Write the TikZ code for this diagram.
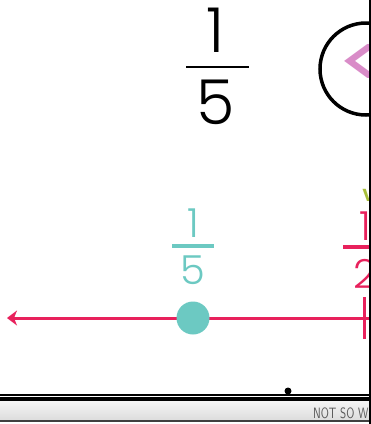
\documentclass[tikz,border=0pt]{standalone}
\usepackage{fontspec}
\setmainfont{Poppins}[UprightFont=* Light]
\newfontfamily\signfont{Poppins}
\usepackage{xcolor}
\usetikzlibrary{arrows.meta}
\definecolor{linepink}{HTML}{E8215C}
\definecolor{dotteal}{HTML}{6CC9C2}
\definecolor{signpink}{HTML}{D98CC8}
\definecolor{markgreen}{HTML}{A8BF3C}

\begin{document}
\begin{tikzpicture}[x=1pt,y=-1pt,
  bigdigit/.style={inner sep=0pt,font=\fontsize{62}{62}\selectfont},
  middigit/.style={inner sep=0pt,font=\fontsize{40}{40}\selectfont},
  fracbar/.style={line width=1.5pt},
  numline/.style={draw=linepink,line width=3pt},
  arr/.style={-{Stealth[length=10pt,width=15pt,inset=3pt]}}]
\useasboundingbox (0,0) rectangle (371,424);
\clip (0,0) rectangle (371,424);
\fill[white] (0,0) rectangle (371,424);
% top fraction and sign
\node[bigdigit] (topnum) at (216,30) {1};
\node[bigdigit] (topden) at (216,102) {5};
\draw[fracbar] (186,67) -- (249,67);
\node[draw,circle,line width=3.5pt,minimum size=92pt] (sign) at (366,69) {};
\node[anchor=west,inner sep=0pt,text=signpink,xscale=1.3,font=\signfont\fontsize{74}{74}\selectfont] (signtxt) at (336,66) {<};
% number line
\coordinate (lineR) at (371,318); \coordinate (lineL) at (7,318);
\draw[numline,arr] (lineR) -- (lineL);
\coordinate (tickT) at (364,297); \coordinate (tickB) at (364,339);
\draw[numline] (tickT) -- (tickB);
\node[circle,fill=dotteal,minimum size=33pt,inner sep=0pt] (dot) at (193,318) {};
\node[middigit,text=dotteal] (tealnum) at (193,223) {1};
\node[middigit,text=dotteal] (tealden) at (193,270) {5};
\draw[dotteal,line width=4pt] (172,246) -- (214,246);
\node[middigit,text=linepink] (pinknum) at (365,226) {1};
\node[middigit,text=linepink] (pinkden) at (365,274) {2};
\draw[linepink,line width=4pt] (343,247) -- (387,247);
\node[inner sep=0pt,text=markgreen,font=\fontsize{22}{22}\selectfont\bfseries] (mark) at (369,195) {v};
% bottom band
\shade[top color=black!4,bottom color=black!14] (0,401) rectangle (371,421);
\draw[line width=1.6pt] (0,395) -- (371,395);
\draw[line width=3.2pt] (0,399) -- (371,399);
\draw[black!75,line width=1.2pt] (0,421) -- (371,421);
\fill (288,391) circle (3.5pt);
\node[anchor=west,inner sep=0pt,text=black!65,font=\sffamily\fontsize{15}{15}\selectfont,xscale=0.75] (footer) at (313,413) {NOT SO WI};
\draw[line width=2pt] (370,0) -- (370,424);
\end{tikzpicture}
\end{document}
